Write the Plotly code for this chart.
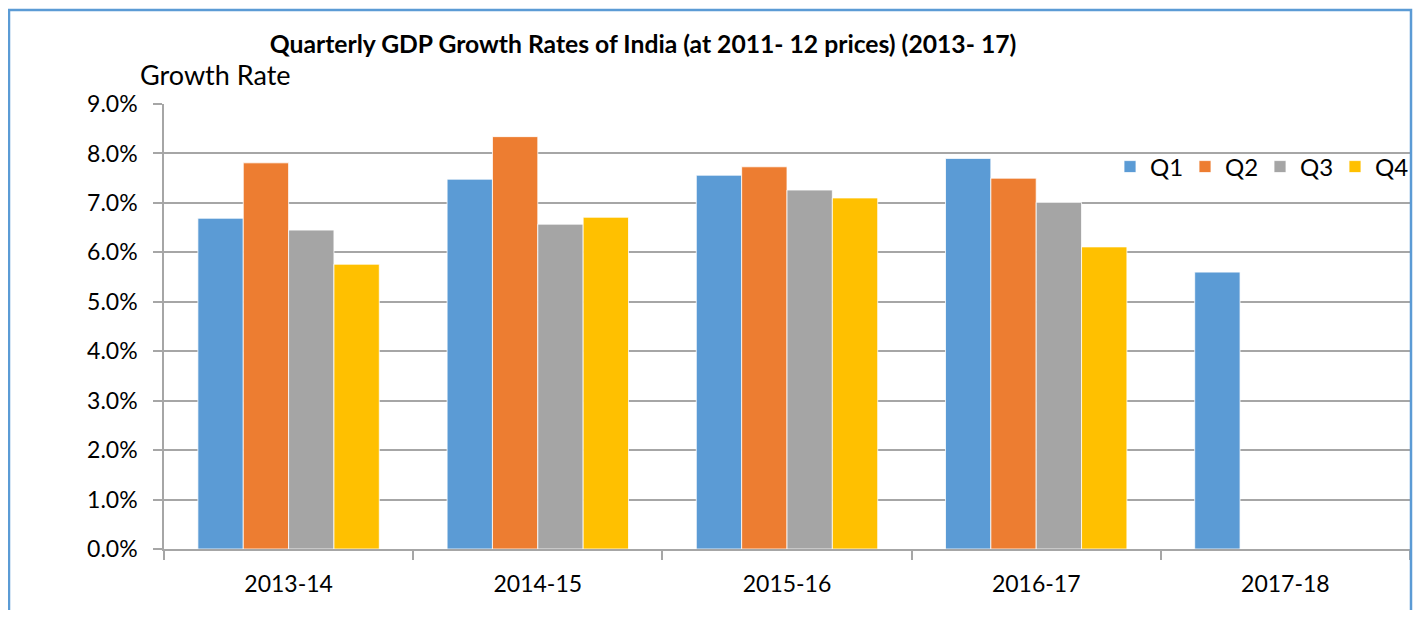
import plotly.graph_objects as go

categories = ["2013-14", "2014-15", "2015-16", "2016-17", "2017-18"]
q1 = [0.0669, 0.0748, 0.0756, 0.0790, 0.0560]
q2 = [0.0781, 0.0834, 0.0773, 0.0750, None]
q3 = [0.0645, 0.0657, 0.0726, 0.0701, None]
q4 = [0.0576, 0.0671, 0.0710, 0.0611, None]
series_names = ["Q1", "Q2", "Q3", "Q4"]
colors = ["#5B9BD5", "#ED7D31", "#A5A5A5", "#FFC000"]

FONT = "Lato"
# page has an 8px body margin: figure coordinates = page coordinates - 8
W, H = 1405, 602
L, R, T, B = 156, 3, 96, 61

fig = go.Figure()
for name, vals, col in zip(series_names, [q1, q2, q3, q4], colors):
    fig.add_trace(go.Bar(x=categories, y=vals, name=name,
                         marker=dict(color=col, line=dict(color="white", width=0.8))))

pw = W - L - R
ph = H - T - B

def px_x(x):
    return (x - L) / pw

def px_y(y):
    return (H - B - y) / ph

fig.update_layout(
    width=W, height=H,
    margin=dict(l=L, r=R, t=T, b=B),
    paper_bgcolor="white", plot_bgcolor="white",
    barmode="group", bargap=0.272, bargroupgap=0,
    font=dict(family=FONT, color="black", size=23),
    title=dict(text="<b>Quarterly GDP Growth Rates of India (at 2011- 12 prices) (2013- 17)</b>",
               x=635 / W, xanchor="center", y=1 - 36 / H, yanchor="middle",
               font=dict(family=FONT, size=24.7, color="black")),
    legend=dict(orientation="h", x=1.0, xanchor="right", y=px_y(159), yanchor="middle",
                font=dict(family=FONT, size=24), bgcolor="rgba(0,0,0,0)",
                traceorder="normal", itemwidth=30, entrywidth=30),
    showlegend=True,
)
fig.update_yaxes(range=[0, 0.09], dtick=0.01, tickformat=".1%",
                 showgrid=True, gridcolor="#A6A6A6", gridwidth=1.5,
                 showline=True, linecolor="#A6A6A6", linewidth=1.5,
                 ticks="outside", ticklen=9, tickcolor="#A6A6A6", tickwidth=1.5,
                 ticklabelstandoff=11, zeroline=False,
                 tickfont=dict(family=FONT, size=23))
fig.update_xaxes(showline=True, linecolor="#A6A6A6", linewidth=1.5,
                 ticks="outside", ticklen=9, tickcolor="#A6A6A6", tickwidth=1.5,
                 tickson="boundaries", showgrid=False, ticklabelstandoff=14,
                 tickfont=dict(family=FONT, size=23))

fig.add_annotation(text="Growth Rate", xref="paper", yref="paper",
                   x=px_x(207), y=px_y(66), xanchor="center", yanchor="middle",
                   showarrow=False, font=dict(family=FONT, size=27, color="black"))

fig.add_shape(type="rect", xref="paper", yref="paper",
              x0=px_x(1), x1=px_x(1403), y0=px_y(640), y1=px_y(2),
              line=dict(color="#5B9BD5", width=2.5), fillcolor="rgba(0,0,0,0)", layer="above")

fig.write_html("out.html")
